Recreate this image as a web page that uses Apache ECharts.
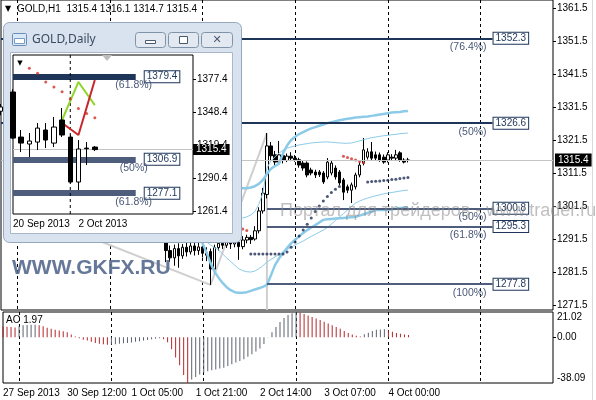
<!DOCTYPE html>
<html>
<head>
<meta charset="utf-8">
<script src="https://cdn.jsdelivr.net/npm/echarts@6/dist/echarts.min.js"></script>
<style>
  html, body { margin: 0; padding: 0; background: #fff; }
  #chart { width: 596px; height: 400px; }
</style>
</head>
<body>
<div id="chart"></div>
<script>
// ---- H1 chart data (slot = hourly bar position on the axis) ----
const slotCount = 138
const timeLabels = ['27 Sep 2013', '30 Sep 12:00', '1 Oct 05:00', '1 Oct 21:00', '2 Oct 14:00', '3 Oct 07:00', '4 Oct 00:00']
const headerOHLC = [1315.4, 1316.1, 1314.7, 1315.4]
const lastPrice = 1315.4
const priceTicks = [1271.5, 1281.5, 1291.5, 1301.5, 1311.5, 1321.5, 1331.5, 1341.5, 1351.5, 1361.5]
const aoTicks = [21.02, 0, -38.09]

// open, close, low, high
const candles = [
  [1330.2, 1331.5, 1329.0, 1332.4], [1331.5, 1332.8, 1330.6, 1333.9], [1332.8, 1331.9, 1330.8, 1334.2],
  [1331.9, 1333.6, 1331.2, 1334.8], [1333.6, 1335.1, 1332.9, 1336.0], [1335.1, 1334.0, 1333.1, 1336.5],
  [1334.0, 1336.2, 1333.5, 1337.4], [1336.2, 1335.3, 1334.6, 1337.9], [1335.3, 1333.8, 1333.0, 1336.4],
  [1333.8, 1332.6, 1331.7, 1334.9], [1332.6, 1333.4, 1331.8, 1334.3], [1333.4, 1331.9, 1331.1, 1334.0],
  [1331.9, 1330.7, 1329.8, 1332.6], [1330.7, 1331.5, 1330.0, 1332.3], [1331.5, 1330.1, 1329.4, 1332.0],
  [1330.1, 1328.9, 1328.1, 1330.8], [1328.9, 1327.6, 1326.8, 1329.7], [1327.6, 1326.9, 1325.9, 1328.4],
  [1326.9, 1327.8, 1326.2, 1328.6], [1327.8, 1326.4, 1325.5, 1328.3], [1326.4, 1325.2, 1324.6, 1327.0],
  [1325.2, 1326.1, 1324.7, 1326.9], [1326.1, 1325.0, 1324.1, 1326.8], [1325.0, 1324.3, 1323.5, 1325.7],
  [1324.3, 1325.4, 1323.8, 1326.2], [1325.4, 1326.0, 1324.9, 1326.8], [1326.0, 1325.1, 1324.5, 1326.7],
  [1325.1, 1326.3, 1324.8, 1327.0], [1326.3, 1327.2, 1325.9, 1327.9], [1327.2, 1326.5, 1325.8, 1328.1],
  [1326.5, 1327.4, 1326.0, 1328.0], [1327.4, 1326.8, 1326.1, 1328.2], [1326.8, 1327.9, 1326.3, 1328.5],
  [1327.9, 1327.0, 1326.4, 1328.7], [1327.0, 1325.3, 1324.8, 1327.6], [1325.3, 1322.1, 1321.4, 1325.9],
  [1322.1, 1314.6, 1313.2, 1322.8], [1314.6, 1306.3, 1305.1, 1315.4], [1306.3, 1299.8, 1298.2, 1307.1],
  [1299.8, 1296.4, 1294.6, 1301.2], [1296.4, 1291.0, 1290.6, 1297.5], [1291.0, 1288.0, 1284.5, 1292.5],
  [1288.0, 1285.8, 1284.6, 1289.5], [1285.8, 1288.6, 1283.4, 1289.8], [1288.6, 1286.4, 1282.8, 1290.2],
  [1286.4, 1289.0, 1285.5, 1290.0], [1289.0, 1287.6, 1286.2, 1291.2], [1287.6, 1289.4, 1286.8, 1290.6],
  [1289.4, 1288.0, 1286.5, 1291.5], [1288.0, 1289.1, 1286.7, 1290.5], [1289.1, 1287.2, 1285.9, 1290.2],
  [1287.2, 1286.6, 1284.8, 1289.0], [1287.7, 1282.4, 1277.6, 1288.6], [1282.4, 1288.9, 1281.0, 1289.8],
  [1288.9, 1290.2, 1288.0, 1291.4], [1290.2, 1289.6, 1288.5, 1291.6], [1289.6, 1290.6, 1288.8, 1291.9],
  [1290.6, 1290.0, 1288.5, 1291.7], [1290.0, 1290.5, 1289.0, 1291.5], [1290.5, 1289.2, 1285.2, 1291.2],
  [1289.2, 1291.2, 1288.4, 1292.4], [1291.2, 1292.0, 1290.2, 1292.8], [1292.0, 1291.3, 1290.0, 1292.7],
  [1291.5, 1294.0, 1291.0, 1295.4], [1294.0, 1300.0, 1293.2, 1301.1], [1300.0, 1305.4, 1299.2, 1307.0],
  [1305.0, 1319.7, 1303.8, 1323.6], [1319.7, 1316.7, 1315.2, 1320.9], [1317.0, 1314.8, 1313.6, 1318.2],
  [1314.8, 1317.0, 1314.0, 1321.2], [1316.8, 1315.3, 1314.4, 1317.6], [1315.3, 1316.6, 1314.8, 1317.4],
  [1316.6, 1316.0, 1315.1, 1317.8], [1316.0, 1315.5, 1314.9, 1316.9], [1315.5, 1313.9, 1313.1, 1316.1],
  [1314.5, 1313.0, 1312.2, 1315.3], [1314.5, 1310.9, 1310.2, 1315.0], [1312.4, 1311.5, 1310.8, 1313.1],
  [1311.8, 1310.9, 1310.0, 1312.5], [1311.8, 1311.0, 1310.3, 1312.4], [1311.5, 1308.8, 1308.2, 1312.1],
  [1310.3, 1314.8, 1309.6, 1316.0], [1311.5, 1314.5, 1310.8, 1315.2], [1313.0, 1310.3, 1309.5, 1313.8],
  [1311.8, 1308.5, 1307.8, 1312.4], [1309.4, 1305.7, 1303.3, 1310.0], [1307.3, 1306.3, 1305.4, 1308.0],
  [1306.3, 1307.9, 1302.4, 1308.6], [1307.3, 1310.9, 1306.5, 1311.6], [1310.9, 1313.9, 1310.2, 1314.8],
  [1314.5, 1318.5, 1313.8, 1322.1], [1316.3, 1317.9, 1315.6, 1319.0], [1317.9, 1316.0, 1315.2, 1320.9],
  [1317.0, 1316.0, 1315.4, 1318.0], [1317.0, 1315.4, 1314.9, 1317.7], [1316.3, 1314.8, 1314.3, 1317.1],
  [1315.4, 1317.0, 1314.7, 1317.8], [1316.3, 1316.0, 1315.3, 1317.2], [1316.0, 1317.0, 1315.2, 1318.5],
  [1317.6, 1315.4, 1314.9, 1318.1], [1315.4, 1314.8, 1314.4, 1316.0], [1315.4, 1315.4, 1314.7, 1316.1]
]

const aoValues = [
  9.0, 8.8, 8.6, 8.2, 9.4, 9.9, 10.2, 10.4, 10.5, 10.0,
  9.2, 8.0, 7.0, 6.2, 5.6, 5.0, 4.2, 2.3, 0.6, -0.8,
  -2.0, -2.8, -3.7, -4.8, -5.4, -5.9, -6.3, -6.1, -5.8, -5.5,
  -5.1, -4.7, -4.3, -3.8, -3.3, -2.8, -2.2, -1.7, -1.2, -0.8,
  -1.6, -4.2, -9.9, -16.9, -23.4, -31.5, -38.09, -35.2, -33.0, -31.0,
  -29.6, -28.3, -27.4, -26.8, -26.1, -25.3, -23.9, -22.5, -21.1, -19.7,
  -18.3, -16.3, -14.1, -11.8, -9.3, -5.6, 0.3, 4.2, 8.5, 12.7,
  16.1, 18.5, 20.0, 21.02, 20.4, 19.3, 18.2, 16.9, 15.6, 14.3,
  13.0, 11.5, 10.0, 8.6, 7.0, 5.3, 3.6, 2.3, 1.2, 0.6,
  2.4, 3.8, 5.1, 6.2, 6.5, 6.7, 5.8, 4.5, 3.6, 2.9,
  2.3, 1.97
]

// band lines start at slot 44
const bandStart = 44
const bandUpOuter = [
  1334.0, 1332.5, 1330.6, 1328.4, 1325.9, 1323.1, 1320.2, 1317.6, 1315.4, 1313.5,
  1311.9, 1310.6, 1309.5, 1308.6, 1307.8, 1307.2, 1306.9, 1306.9, 1307.1, 1307.5,
  1308.2, 1309.4, 1311.2, 1312.8, 1313.6, 1314.3, 1317.5, 1319.8, 1321.5, 1322.5,
  1323.3, 1323.9, 1324.5, 1325.0, 1325.4, 1325.8, 1326.2, 1326.6, 1326.9, 1327.2,
  1327.5, 1327.7, 1327.9, 1328.1, 1328.3, 1328.4, 1328.5, 1328.6, 1328.8, 1329.0,
  1329.2, 1329.4, 1329.6, 1329.8, 1329.9, 1330.0, 1330.2, 1330.3
]
const bandUpInner = [
  1321.0, 1318.8, 1316.4, 1313.9, 1311.5, 1309.2, 1307.1, 1305.2, 1303.6, 1302.2,
  1301.0, 1300.0, 1299.2, 1298.6, 1298.2, 1297.9, 1297.9, 1298.2, 1298.8, 1299.8,
  1302.0, 1305.5, 1313.0, 1315.2, 1316.4, 1317.5, 1318.4, 1319.0, 1319.4, 1319.7,
  1320.0, 1320.2, 1320.4, 1320.6, 1320.7, 1320.8, 1320.9, 1320.9, 1320.8, 1320.7,
  1320.6, 1320.5, 1320.5, 1320.6, 1320.9, 1321.2, 1321.6, 1321.9, 1322.2, 1322.4,
  1322.6, 1322.8, 1322.9, 1323.1, 1323.2, 1323.4, 1323.5, 1323.6
]
const bandLoInner = [
  1302.0, 1299.8, 1297.7, 1295.8, 1294.1, 1292.6, 1291.5, 1290.6, 1289.7, 1288.9,
  1288.2, 1287.0, 1285.8, 1284.7, 1283.6, 1282.5, 1281.9, 1281.6, 1281.5, 1281.8,
  1282.5, 1283.4, 1284.5, 1285.3, 1286.1, 1286.8, 1287.6, 1288.3, 1289.0, 1289.7,
  1290.3, 1290.9, 1291.6, 1292.3, 1292.9, 1293.6, 1294.2, 1295.0, 1296.0, 1297.1,
  1298.2, 1299.2, 1300.3, 1301.4, 1302.4, 1303.0, 1303.5, 1303.9, 1304.3, 1304.6,
  1304.9, 1305.2, 1305.4, 1305.6, 1305.8, 1306.0, 1306.2, 1306.3
]
const bandLoOuter = [
  1300.0, 1298.4, 1296.7, 1295.0, 1293.4, 1291.9, 1290.2, 1287.5, 1284.2, 1281.6,
  1279.8, 1278.2, 1276.9, 1276.0, 1275.4, 1275.2, 1275.2, 1275.4, 1275.8, 1276.2,
  1276.6, 1277.0, 1277.6, 1280.5, 1283.6, 1285.6, 1287.3, 1288.8, 1290.2, 1291.3,
  1292.3, 1293.3, 1294.2, 1295.0, 1295.7, 1296.5, 1297.3, 1297.5, 1297.6, 1297.7,
  1297.8, 1297.9, 1298.0, 1298.1, 1298.2, 1298.6, 1299.0, 1299.4, 1299.8, 1300.3,
  1300.3, 1300.3, 1300.3, 1300.5, 1300.7, 1300.9, 1301.0, 1301.2
]

// parabolic SAR dots [slot, price]
const sarAbove = [
  [56, 1296.2], [57, 1295.8], [58, 1295.3], [59, 1294.9], [60, 1294.5], [61, 1294.1],
  [85, 1316.6], [86, 1316.2], [87, 1315.8], [88, 1315.4], [89, 1315.0], [90, 1314.6]
]
const sarBelow = [
  [62, 1287.0], [63, 1287.0], [64, 1287.0], [65, 1287.0], [66, 1287.0], [67, 1287.0], [68, 1287.0],
  [69, 1287.0], [70, 1287.0], [71, 1287.6], [72, 1289.0], [73, 1290.6], [74, 1292.4], [75, 1294.2],
  [76, 1296.0], [77, 1297.9], [78, 1299.8], [79, 1301.5], [80, 1303.0], [81, 1304.4], [82, 1305.6],
  [83, 1306.6], [84, 1307.4],
  [91, 1308.8], [92, 1308.9], [93, 1309.0], [94, 1309.1], [95, 1309.2], [96, 1309.3], [97, 1309.5],
  [98, 1309.6], [99, 1309.8], [100, 1310.0], [101, 1310.1]
]

// fibonacci objects
const fiboTrend = [[16, 1295.0], [52, 1277.6], [66, 1323.6], [66, 1270.0]]
const fiboValues = [1352.3, 1326.6, 1300.8, 1295.3, 1277.8]
const fiboPct = ['(76.4%)', '(50%)', '(50%)', '(61.8%)', '(100%)']
const fiboFrom = [0, 0, 66, 66, 66]
const fiboTo = 121.5

// ---- Daily inset data ----
const dailyDates = ['20 Sep 2013', '23 Sep', '24 Sep', '25 Sep', '26 Sep', '27 Sep', '30 Sep', '1 Oct', '2 Oct 2013', '3 Oct', '4 Oct']
const dailySlots = 23
const dailyCandles = [
  [1366.0, 1325.5, 1324.6, 1368.4], [1326.4, 1321.1, 1313.2, 1332.6], [1320.3, 1322.9, 1308.8, 1329.9],
  [1322.0, 1334.3, 1315.0, 1338.7], [1332.6, 1323.8, 1316.7, 1338.7], [1321.1, 1335.2, 1317.6, 1344.0],
  [1341.4, 1328.2, 1326.4, 1351.9], [1326.4, 1286.9, 1285.5, 1328.5], [1286.9, 1315.9, 1279.8, 1323.8],
  [1316.7, 1316.2, 1301.8, 1322.0], [1317.6, 1315.4, 1314.1, 1318.5]
]
const dailySar = [[2, 1386.8], [3, 1382.4], [4, 1374.8], [5, 1370.4], [6, 1366.2], [7, 1359.8], [8, 1351.6], [9, 1347.0], [10, 1343.4]]
const dailyGreen = [[6, 1341.4], [8, 1374.8], [10, 1354.5]]
const dailyRed = [[6, 1338.7], [8, 1328.2], [10, 1376.5]]
const dailyFiboValues = [1379.4, 1306.9, 1277.1]
const dailyFiboPct = ['(61.8%)', '(50%)', '(61.8%)']
const dailyFiboTo = 15
const dailyTicks = [1261.4, 1290.4, 1319.4, 1348.4, 1377.4]
const dailyMin = 1258.8
const dailyMax = 1398.5
const dailyDivider = 7

// ---- styling ----
const FONT = 'Liberation Sans'
const NAVY = '#1d3559'
const SLATE = '#4f5d7d'
const PCT = '#4a5777'
const AO_UP = '#5a626e'
const AO_DOWN = '#b3262b'
const BAND = '#8ccbe8'

const slots = Array.from({ length: slotCount }, (_, i) => String(i))
const pad = arr => new Array(bandStart).fill(null).concat(arr)
const aoData = aoValues.map((v, i) => ({
  value: v,
  itemStyle: { color: i > 0 && v > aoValues[i - 1] ? AO_UP : AO_DOWN }
}))

function fibMarks (values, pcts, from, to, lineW, colors, boxDist, pctDist, pctWidth) {
  const out = []
  values.forEach((v, i) => {
    out.push([
      {
        coord: [from[i], v],
        lineStyle: { color: colors[i], width: lineW, type: 'solid' },
        label: {
          show: true, position: 'end', distance: boxDist, formatter: v.toFixed(1),
          color: NAVY, backgroundColor: '#fff', borderColor: NAVY, borderWidth: 1,
          padding: [1, 2, 0, 2], fontSize: 10, fontFamily: FONT
        }
      },
      { coord: [to, v] }
    ])
    out.push([
      {
        coord: [from[i], v],
        lineStyle: { color: 'rgba(0,0,0,0)', width: 1 },
        label: {
          show: true, position: 'insideEndBottom', distance: pctDist,
          formatter: pctWidth ? '{p|' + pcts[i] + '}' : pcts[i],
          rich: { p: { width: pctWidth, align: 'center', color: PCT, fontSize: 10.5, fontFamily: FONT } },
          color: PCT, fontSize: 10.5, fontFamily: FONT
        }
      },
      { coord: [to, v] }
    ])
  })
  return out
}

const mainMarks = fibMarks(fiboValues, fiboPct, fiboFrom, fiboTo, 2,
  [NAVY, NAVY, SLATE, SLATE, SLATE], 1, [6, 3], 0)
mainMarks.push({
  yAxis: lastPrice,
  lineStyle: { color: '#c4c4c4', width: 1, type: 'solid' },
  label: {
    show: true, position: 'end', distance: 2, formatter: lastPrice.toFixed(1),
    color: '#fff', backgroundColor: '#000', padding: [2, 3, 1, 3], fontSize: 10, fontFamily: FONT
  }
})

const dailyMarks = fibMarks(dailyFiboValues, dailyFiboPct, [0, 0, 0], dailyFiboTo, 6,
  [NAVY, SLATE, SLATE], 9, [-17, 3], 38)
dailyMarks.push({
  yAxis: lastPrice,
  lineStyle: { color: '#c4c4c4', width: 1, type: 'solid' },
  label: {
    show: true, position: 'end', distance: 0, formatter: lastPrice.toFixed(1),
    color: '#fff', backgroundColor: '#000', padding: [1, 3, 0, 3], fontSize: 10, fontFamily: FONT
  }
})

const dashed = { show: true, interval: i => i % 23 === 4, lineStyle: { color: '#000', width: 1, type: [3, 3] } }
const axisText = { fontSize: 10, fontFamily: FONT, color: '#000' }

const chartInstance = echarts.init(document.getElementById('chart'))
const option = {
  animation: false,
  backgroundColor: '#fff',
  grid: [
    { left: 1, top: 0, width: 552, height: 310, show: true, borderColor: '#000', borderWidth: 1 },
    { left: 1, top: 312, width: 552, height: 71, show: true, borderColor: '#000', borderWidth: 1 },
    { left: 13, top: 55, width: 180, height: 159, show: true, borderColor: '#000', borderWidth: 1, z: 60 }
  ],
  xAxis: [
    {
      type: 'category', gridIndex: 0, data: slots, boundaryGap: false,
      axisLine: { show: false }, axisTick: { show: false }, axisLabel: { show: false },
      splitLine: dashed
    },
    {
      type: 'category', gridIndex: 1, data: slots, boundaryGap: false,
      axisLine: { show: false }, axisTick: { show: false },
      axisLabel: Object.assign({
        interval: i => i % 16 === 0 && i / 16 < timeLabels.length,
        formatter: (v, i) => timeLabels[i / 16],
        align: 'left', margin: 5
      }, axisText),
      splitLine: dashed
    },
    {
      type: 'category', gridIndex: 2, z: 60, boundaryGap: false,
      data: Array.from({ length: dailySlots }, (_, i) => dailyDates[i] || ''),
      axisLine: { show: false }, axisTick: { show: false },
      axisLabel: Object.assign({
        interval: i => i === 0 || i === 8, align: 'left', margin: 5
      }, axisText),
      splitLine: { show: false }
    }
  ],
  yAxis: [
    {
      type: 'value', gridIndex: 0, position: 'right', min: 1270.0, max: 1363.9,
      axisLine: { show: false }, splitLine: { show: false },
      axisTick: { show: true, length: 3, customValues: priceTicks, lineStyle: { color: '#000' } },
      axisLabel: Object.assign({ customValues: priceTicks, formatter: v => v.toFixed(1), margin: 4 }, axisText)
    },
    {
      type: 'value', gridIndex: 1, position: 'right', min: -38.09, max: 21.02,
      axisLine: { show: false }, splitLine: { show: false },
      axisTick: { show: true, length: 3, customValues: [0], lineStyle: { color: '#000' } },
      axisLabel: Object.assign({
        customValues: aoTicks, margin: 4,
        formatter: v => v > 0 ? '{t|' + v.toFixed(2) + '}' : v < 0 ? '{b|' + v.toFixed(2) + '}' : v.toFixed(2),
        rich: {
          t: { fontSize: 10, fontFamily: FONT, padding: [10, 0, 0, 0] },
          b: { fontSize: 10, fontFamily: FONT, padding: [0, 0, 10, 0] }
        }
      }, axisText)
    },
    {
      type: 'value', gridIndex: 2, position: 'right', min: dailyMin, max: dailyMax, z: 60,
      axisLine: { show: false }, splitLine: { show: false },
      axisTick: { show: true, length: 3, customValues: dailyTicks, lineStyle: { color: '#000' } },
      axisLabel: Object.assign({ customValues: dailyTicks, formatter: v => v.toFixed(1), margin: 4 }, axisText)
    }
  ],
  series: [
    {
      type: 'line', xAxisIndex: 0, yAxisIndex: 0, data: fiboTrend, showSymbol: false, symbol: 'none',
      lineStyle: { color: '#cfcfcf', width: 2 }, z: 1, silent: true
    },
    { type: 'line', xAxisIndex: 0, yAxisIndex: 0, data: pad(bandUpOuter), symbol: 'none', lineStyle: { color: BAND, width: 2.5 }, silent: true },
    { type: 'line', xAxisIndex: 0, yAxisIndex: 0, data: pad(bandLoOuter), symbol: 'none', lineStyle: { color: BAND, width: 2.5 }, silent: true },
    { type: 'line', xAxisIndex: 0, yAxisIndex: 0, data: pad(bandUpInner), symbol: 'none', lineStyle: { color: BAND, width: 1 }, silent: true },
    { type: 'line', xAxisIndex: 0, yAxisIndex: 0, data: pad(bandLoInner), symbol: 'none', lineStyle: { color: BAND, width: 1 }, silent: true },
    {
      type: 'candlestick', xAxisIndex: 0, yAxisIndex: 0, data: candles, barWidth: 3,
      itemStyle: { color: '#fff', color0: '#000', borderColor: '#000', borderColor0: '#000', borderWidth: 1 },
      markLine: { silent: true, symbol: ['none', 'none'], data: mainMarks, animation: false, z: 5 }
    },
    {
      type: 'scatter', xAxisIndex: 0, yAxisIndex: 0, data: sarAbove, symbolSize: 3,
      itemStyle: { color: '#d0302a' }, silent: true, z: 4
    },
    {
      type: 'scatter', xAxisIndex: 0, yAxisIndex: 0, data: sarBelow, symbolSize: 3,
      itemStyle: { color: '#1f2d55' }, silent: true, z: 4
    },
    {
      type: 'bar', xAxisIndex: 1, yAxisIndex: 1, data: aoData, barWidth: 1, silent: true
    },
    // daily inset
    {
      type: 'line', xAxisIndex: 2, yAxisIndex: 2, symbol: 'none', z: 61, silent: true,
      data: [[dailyDivider, dailyMax], [dailyDivider, dailyMin]],
      lineStyle: { color: '#000', width: 1, type: [3, 3] }
    },
    {
      type: 'line', xAxisIndex: 2, yAxisIndex: 2, data: dailyGreen, symbol: 'none',
      lineStyle: { color: '#8fd62a', width: 2 }, z: 61, silent: true
    },
    {
      type: 'line', xAxisIndex: 2, yAxisIndex: 2, data: dailyRed, symbol: 'none',
      lineStyle: { color: '#c8262b', width: 2 }, z: 61, silent: true
    },
    {
      type: 'candlestick', xAxisIndex: 2, yAxisIndex: 2, data: dailyCandles, barWidth: 5, clip: true, z: 62,
      itemStyle: { color: '#fff', color0: '#000', borderColor: '#000', borderColor0: '#000', borderWidth: 1 },
      markLine: { silent: true, symbol: ['none', 'none'], data: dailyMarks, animation: false, z: 61 }
    },
    {
      type: 'scatter', xAxisIndex: 2, yAxisIndex: 2, data: dailySar, symbolSize: 3,
      itemStyle: { color: '#d0302a' }, z: 63, silent: true
    }
  ],
  graphic: [
    // inset window chrome
    { type: 'rect', z: 50, shape: { x: 3.5, y: 22.5, width: 238, height: 220, r: 6 }, style: { fill: '#d9e3ef', stroke: '#95a7bf', lineWidth: 1 } },
    { type: 'rect', z: 51, shape: { x: 10.5, y: 52.5, width: 222, height: 181 }, style: { fill: '#fff', stroke: '#a9b7c8', lineWidth: 1 } },
    { type: 'rect', z: 51, shape: { x: 12.5, y: 33.5, width: 14, height: 12, r: 1 }, style: { fill: '#d8e8f7', stroke: '#6c8db5', lineWidth: 1 } },
    { type: 'rect', z: 52, shape: { x: 14.5, y: 38.5, width: 10, height: 5 }, style: { fill: '#fff', stroke: '#7a9cc0', lineWidth: 1 } },
    { type: 'text', z: 51, x: 32, y: 40, style: { text: 'GOLD,Daily', font: '12px "Noto Sans"', fill: '#3b4a5c', verticalAlign: 'middle' } },
    { type: 'rect', z: 51, shape: { x: 135.5, y: 32.5, width: 30, height: 15, r: 3 }, style: { fill: '#e3e9f1', stroke: '#8092a8', lineWidth: 1 } },
    { type: 'rect', z: 51, shape: { x: 168.5, y: 32.5, width: 30, height: 15, r: 3 }, style: { fill: '#e3e9f1', stroke: '#8092a8', lineWidth: 1 } },
    { type: 'rect', z: 51, shape: { x: 201.5, y: 32.5, width: 31, height: 15, r: 3 }, style: { fill: '#e3e9f1', stroke: '#8092a8', lineWidth: 1 } },
    { type: 'rect', z: 52, shape: { x: 145.5, y: 40.5, width: 10, height: 3 }, style: { fill: '#fff', stroke: '#4b5a6e', lineWidth: 1 } },
    { type: 'rect', z: 52, shape: { x: 179.5, y: 36.5, width: 8, height: 7 }, style: { fill: '#fff', stroke: '#4b5a6e', lineWidth: 1 } },
    { type: 'text', z: 52, x: 217, y: 40, style: { text: '✕', font: 'bold 11px "DejaVu Sans"', fill: '#4b5a6e', align: 'center', verticalAlign: 'middle' } },
    { type: 'text', z: 70, x: 20, y: 63, style: { text: '▼', font: '7px "DejaVu Sans"', fill: '#000', align: 'center', verticalAlign: 'middle' } },
    { type: 'polygon', z: 70, shape: { points: [[102, 55], [112, 55], [107, 61]] }, style: { fill: '#bdbdbd' } },
    // header of main chart
    { type: 'text', z: 100, x: 8, y: 9, style: { text: '▼', font: '8px "DejaVu Sans"', fill: '#000', align: 'center', verticalAlign: 'middle' } },
    {
      type: 'text', z: 100, x: 17, y: 9,
      style: { text: 'GOLD,H1  ' + headerOHLC.map(v => v.toFixed(1)).join(' '), font: '10px "' + FONT + '"', fill: '#000', verticalAlign: 'middle' }
    },
    {
      type: 'text', z: 100, x: 6, y: 320,
      style: { text: 'AO ' + aoValues[aoValues.length - 1].toFixed(2), font: '10px "' + FONT + '"', fill: '#000', verticalAlign: 'middle' }
    },
    // watermarks
    {
      type: 'text', z: 100, x: 12, y: 268,
      style: { text: 'WWW.GKFX.RU', font: 'bold 21px "' + FONT + '"', fill: '#55698f', opacity: 0.9, verticalAlign: 'middle' }
    },
    {
      type: 'text', z: 100, x: 280, y: 211,
      style: { text: 'Портал для трейдеров - www.trader.ru', font: '18px "' + FONT + '"', fill: '#8a8a8a', opacity: 0.55, verticalAlign: 'middle' }
    },
    { type: 'line', z: 100, shape: { x1: 592.5, y1: 0, x2: 592.5, y2: 400 }, style: { stroke: '#dadada', lineWidth: 1 } }
  ]
}
chartInstance.setOption(option)
</script>
</body>
</html>
